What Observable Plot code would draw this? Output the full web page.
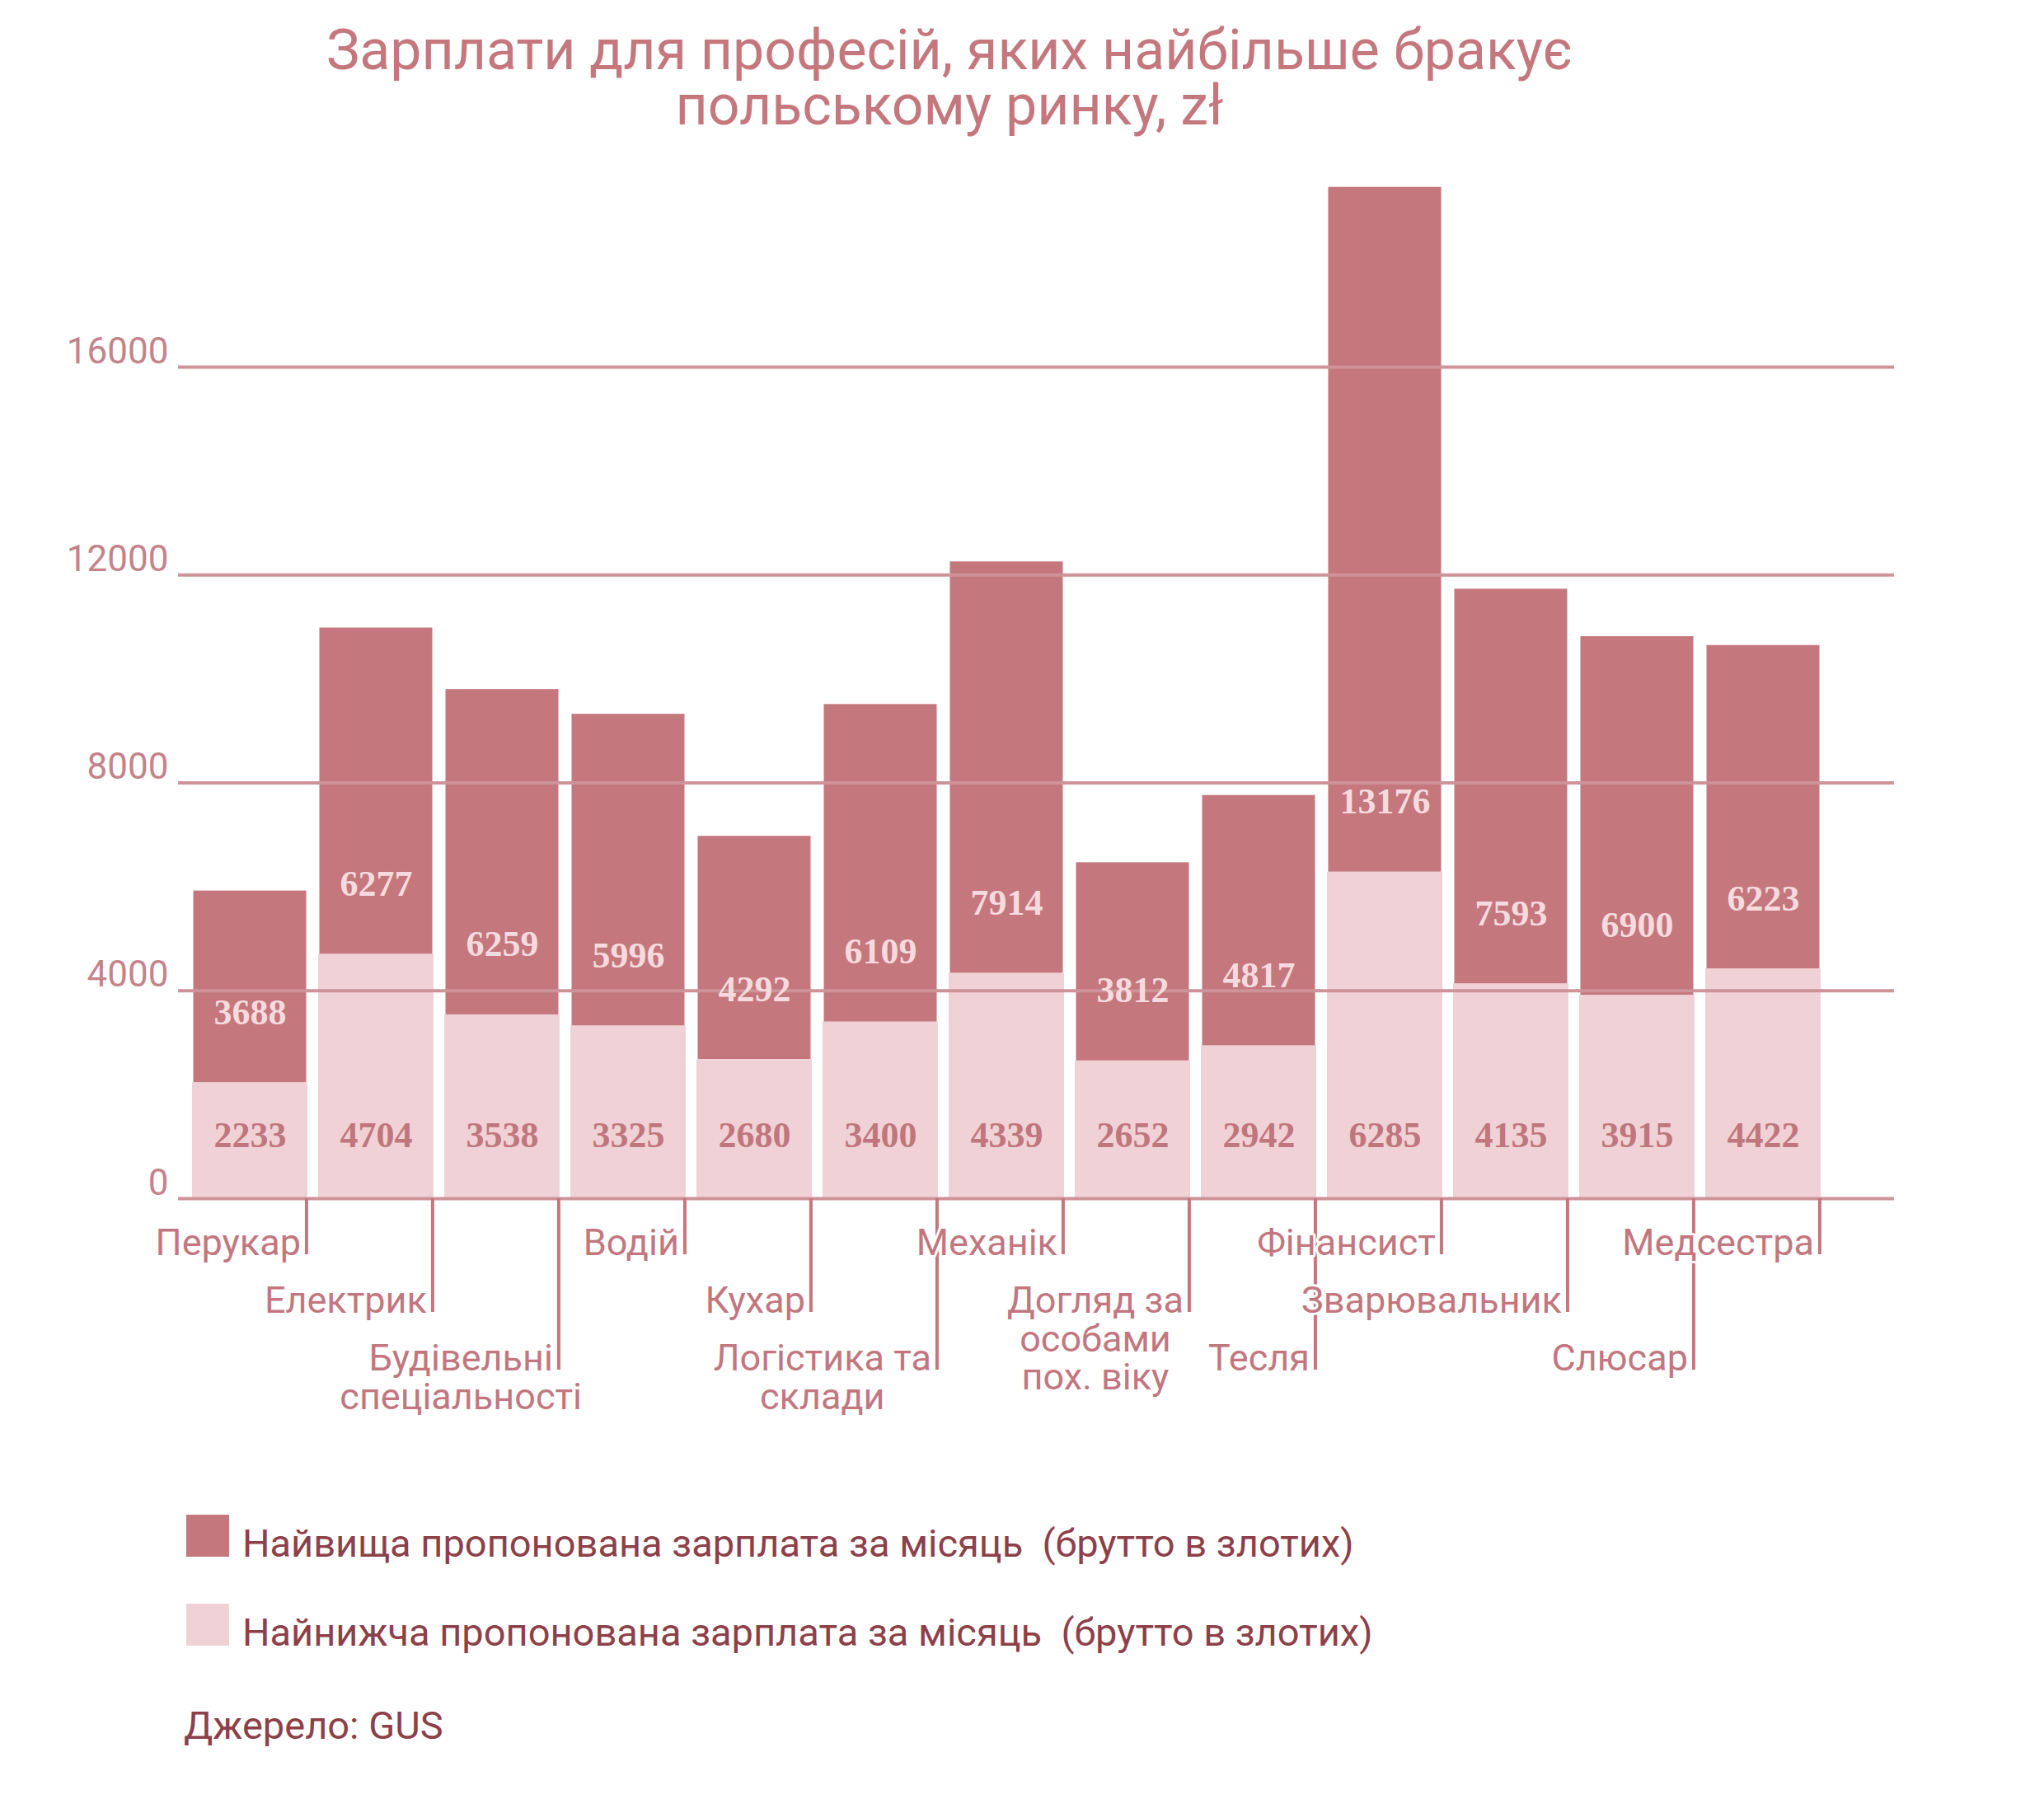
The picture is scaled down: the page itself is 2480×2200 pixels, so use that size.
<!DOCTYPE html>
<html>
<head>
<meta charset="utf-8">
<script src="https://cdn.jsdelivr.net/npm/d3@7"></script>
<script src="https://cdn.jsdelivr.net/npm/@observablehq/plot@0.6"></script>
<style>
  body { margin: 0; background: #ffffff; font-family: Roboto, "Noto Sans", sans-serif; }
  #page { position: relative; width: 2480px; height: 2200px; background: #fff; overflow: hidden; }
  #title { position: absolute; left: 0; top: 28px; width: 2304px; text-align: center;
           font-size: 68px; line-height: 67px; color: #c4777d; }
  #chart { position: absolute; left: 0; top: 200px; }
  .sw { position: absolute; left: 226px; width: 52px; height: 51px; }
  .lg { position: absolute; font-size: 47px; line-height: 46px; color: #8c4049; white-space: pre; }
</style>
</head>
<body>
<div id="page">
  <div id="title">Зарплати для професій, яких найбільше бракує<br>польському ринку, zł</div>
  <div id="chart"></div>
  <div class="sw" id="swHigh" style="top:1838px;"></div>
  <div class="lg" id="lgHigh" style="left:294px; top:1850px;"></div>
  <div class="sw" id="swLow" style="top:1946px;"></div>
  <div class="lg" id="lgLow" style="left:294px; top:1958px;"></div>
  <div class="lg" id="source" style="left:223px; top:2071px;">Джерело: GUS</div>
</div>
<script>
// ---- data ----
const categories = [
  "Перукар", "Електрик", "Будівельні\nспеціальності", "Водій", "Кухар",
  "Логістика та\nсклади", "Механік", "Догляд за\nособами\nпох. віку", "Тесля",
  "Фінансист", "Зварювальник", "Слюсар", "Медсестра"
];
const lowSalary  = [2233, 4704, 3538, 3325, 2680, 3400, 4339, 2652, 2942, 6285, 4135, 3915, 4422];
const highSalary = [3688, 6277, 6259, 5996, 4292, 6109, 7914, 3812, 4817, 13176, 7593, 6900, 6223];
const yTicks = [0, 4000, 8000, 12000, 16000];
const seriesNames = [
  "Найвища пропонована зарплата за місяць  (брутто в злотих)",
  "Найнижча пропонована зарплата за місяць  (брутто в злотих)"
];

// ---- styles ----
const darkColor = "#c4777c";
const lightColor = "#f0d1d5";
const gridColor = "#cd9399";
const tickColor = "#c4777c";
const labelColor = "#c27780";
const axisNumColor = "#c4838a";
const numOnLight = "#c0767d";
const numOnDark = "#f6dbde";

document.getElementById("swHigh").style.background = darkColor;
document.getElementById("swLow").style.background = lightColor;
document.getElementById("lgHigh").textContent = seriesNames[0];
document.getElementById("lgLow").textContent = seriesNames[1];

const rows = categories.map((c, i) => ({cat: c, low: lowSalary[i], high: highSalary[i], idx: i}));

const W = 2480, H = 1580;
const xOpts = {type: "band", domain: categories, range: [221, 2221], paddingInner: 0.085, paddingOuter: 0.04};
const bw = Plot.scale({x: xOpts}).bandwidth;

const tickLen = [68, 138, 208];
const labelFont = 45;
const canvas = document.createElement("canvas");
const ctx = canvas.getContext("2d");
ctx.font = `${labelFont}px Roboto`;

const marks = [
  Plot.barY(rows, {x: "cat", y1: () => 0, y2: "low", fill: lightColor}),
  Plot.barY(rows, {x: "cat", y1: "low", y2: d => d.low + d.high, fill: darkColor, insetLeft: 1.5, insetRight: 1.5}),
  Plot.ruleY(yTicks, {stroke: gridColor, strokeWidth: 4}),
  Plot.text(yTicks, {y: d => d, text: d => d3.format("d")(d), frameAnchor: "left", textAnchor: "end",
    dx: -12, dy: -5, lineAnchor: "bottom", fill: axisNumColor, fontSize: 44, fontFamily: "Roboto"}),
  Plot.text(rows, {x: "cat", y: () => 0, text: d => String(d.low), dy: -77,
    fill: numOnLight, fontSize: 44, fontWeight: "bold", fontFamily: "Liberation Serif"}),
  Plot.text(rows, {x: "cat", y: "low", text: d => String(d.high), dy: -85,
    fill: numOnDark, fontSize: 44, fontWeight: "bold", fontFamily: "Liberation Serif"})
];

// staggered category ticks at the right edge of each bar
[0, 1, 2].forEach(level => {
  marks.push(Plot.ruleX(rows.filter(d => d.idx % 3 === level), {
    x: "cat", y1: () => 0, y2: () => 0, insetBottom: -tickLen[level],
    dx: bw / 2 - 2, stroke: tickColor, strokeWidth: 4
  }));
});

// category labels
rows.forEach(d => {
  const level = d.idx % 3;
  const firstLine = d.cat.split("\n")[0];
  const w1 = ctx.measureText(firstLine).width;
  marks.push(Plot.text([d], {
    x: "cat", y: () => 0, text: "cat", textAnchor: "middle", lineAnchor: "top", lineHeight: 1.03,
    dx: bw / 2 - 2 - 7 - w1 / 2, dy: tickLen[level] - 0.71 * labelFont,
    fill: labelColor, stroke: "white", strokeWidth: 6, fontSize: labelFont, fontFamily: "Roboto"
  }));
});

const chart = Plot.plot({
  width: W,
  height: H,
  marginLeft: 216,
  marginRight: 182,
  marginTop: 0,
  marginBottom: 0,
  x: {...xOpts, axis: null},
  y: {domain: [0, 16000], range: [1254, 245], axis: null},
  style: {fontFamily: "Roboto", background: "white", overflow: "visible"},
  marks
});
document.getElementById("chart").appendChild(chart);
</script>
</body>
</html>
